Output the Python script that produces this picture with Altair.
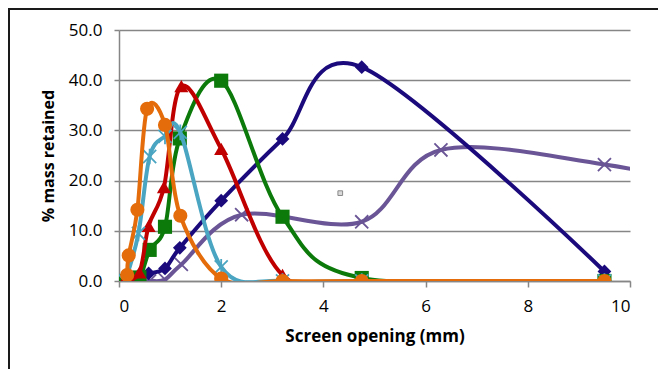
import altair as alt
import pandas as pd

# ---- data ----
x_ticks = [0, 2, 4, 6, 8, 10]
y_ticks = [0, 10, 20, 30, 40, 50]

navy_x = [0.15, 0.38, 0.58, 0.9, 1.19, 2.0, 3.2, 4.75, 9.5]
navy_y = [0.0, 1.0, 1.5, 2.5, 6.6, 16.0, 28.3, 42.6, 1.9]

purple_x = [0.15, 0.6, 0.9, 1.22, 2.4, 4.75, 6.3, 9.5, 12.5]
purple_y = [0.0, 0.0, 0.3, 3.3, 13.2, 11.8, 26.1, 23.2, 17.0]

green_x = [0.1, 0.4, 0.6, 0.9, 1.19, 2.0, 3.2, 4.75, 9.5]
green_y = [0.0, 0.7, 6.2, 10.8, 28.4, 39.9, 12.8, 0.6, 0.0]

red_x = [0.1, 0.4, 0.58, 0.88, 1.22, 2.0, 3.2, 4.75, 9.5]
red_y = [0.0, 1.7, 11.0, 18.7, 38.8, 26.3, 1.2, 0.0, 0.0]

blue_x = [0.12, 0.38, 0.6, 0.9, 1.2, 2.0, 3.2, 4.75, 9.5]
blue_y = [0.0, 9.5, 24.8, 28.8, 29.6, 2.8, 0.0, 0.0, 0.0]

orange_x = [0.16, 0.19, 0.36, 0.55, 0.9, 1.2, 2.0, 3.2, 4.75, 9.5]
orange_y = [1.2, 5.1, 14.2, 34.3, 31.1, 13.0, 0.5, 0.0, 0.0, 0.0]

artifact_x = [4.33]
artifact_y = [17.5]

X_SHAPE = "M-1,-1L1,1M-1,1L1,-1"
STAR_SHAPE = "M-1,-1L1,1M-1,1L1,-1M0,-1.2L0,1.2"

series = [
    ("purple", purple_x, purple_y, "#6a5596", X_SHAPE, False, 170),
    ("navy", navy_x, navy_y, "#1a0a7c", "diamond", True, 190),
    ("green", green_x, green_y, "#0b7a0b", "square", True, 200),
    ("red", red_x, red_y, "#c00000", "triangle-up", True, 200),
    ("blue", blue_x, blue_y, "#4aa5c2", STAR_SHAPE, False, 170),
    ("orange", orange_x, orange_y, "#e46c0a", "circle", True, 200),
]

FONT = "Open Sans"

xscale = alt.Scale(domain=[0, 10], nice=False, zero=False)
yscale = alt.Scale(domain=[0, 50], nice=False)

xaxis = alt.Axis(
    values=x_ticks, format="d", grid=False,
    domainColor="#868686", domainWidth=1.5,
    tickColor="#868686", tickWidth=1.5, tickSize=6,
    labelFont=FONT, labelFontSize=17, labelColor="#000000", labelPadding=11,
    title="Screen opening (mm)", titleFont=FONT, titleFontSize=17,
    titleFontWeight="bold", titleColor="#000000", titlePadding=14,
)
yaxis = alt.Axis(
    values=y_ticks, format=".1f", grid=True,
    gridColor="#868686", gridWidth=1.5,
    domainColor="#868686", domainWidth=1.5,
    tickColor="#868686", tickWidth=1.5, tickSize=5,
    labelFont=FONT, labelFontSize=17, labelColor="#000000", labelPadding=12,
    title="% mass retained", titleFont=FONT, titleFontSize=16,
    titleFontWeight="bold", titleColor="#000000", titlePadding=12,
)

layers = []
for name, xs, ys, color, shape, filled, size in series:
    df = pd.DataFrame({"x": xs, "y": ys})
    base = alt.Chart(df).encode(
        x=alt.X("x:Q", scale=xscale, axis=xaxis),
        y=alt.Y("y:Q", scale=yscale, axis=yaxis),
    )
    line = base.mark_line(interpolate="cardinal", strokeWidth=4, color=color, clip=True)
    if filled:
        pts = base.mark_point(shape=shape, filled=True, size=size, color=color, opacity=1, clip=True)
    else:
        pts = base.mark_point(shape=shape, filled=False, size=size, color=color,
                              strokeWidth=1.8, opacity=1, clip=True)
    layers += [line, pts]

art = alt.Chart(pd.DataFrame({"x": artifact_x, "y": artifact_y})).mark_point(
    shape="square", size=22, filled=True, color="#d9d9d9", stroke="#8a8a8a",
    strokeWidth=1, opacity=1
).encode(x=alt.X("x:Q", scale=xscale, axis=xaxis), y=alt.Y("y:Q", scale=yscale, axis=yaxis))
layers.append(art)

frame_df = pd.DataFrame({"a": [0]})
left_border = alt.Chart(frame_df).mark_rule(color="#1a1a1a", strokeWidth=2).encode(
    x=alt.value(-110), y=alt.value(-21), y2=alt.value(340)
)
top_border = alt.Chart(frame_df).mark_rule(color="#1a1a1a", strokeWidth=2).encode(
    x=alt.value(-111), x2=alt.value(540), y=alt.value(-21)
)
layers += [left_border, top_border]

chart = alt.layer(*layers).properties(
    width=511, height=251,
    autosize=alt.AutoSizeParams(type="none"),
    padding={"left": 111, "top": 22, "right": 28, "bottom": 88},
    background="#ffffff",
).configure_view(strokeWidth=0)

chart.save("out.html", embed_options={"renderer": "svg", "actions": False})
